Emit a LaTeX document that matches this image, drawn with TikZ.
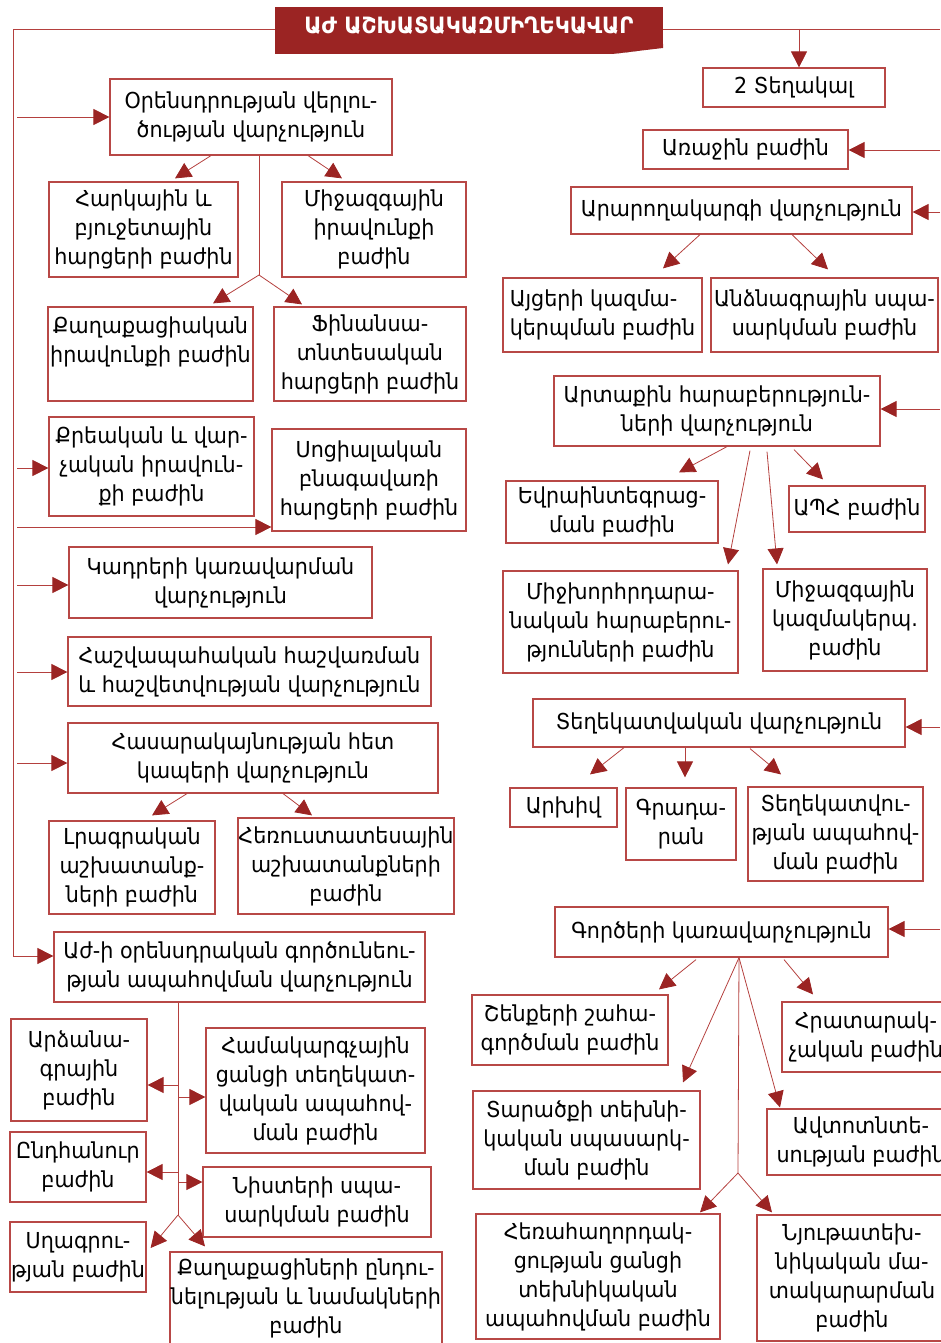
\documentclass[tikz,border=0pt]{standalone}
\usepackage{fontspec}
\setmainfont{DejaVu Sans}[FakeStretch=0.94]
\usetikzlibrary{arrows.meta}
\definecolor{tipred}{RGB}{155,36,35}
\definecolor{boxred}{RGB}{184,72,70}
\definecolor{linered}{RGB}{180,64,62}

% #1 extra node options, #2 name, #3 left, #4 top, #5 right, #6 bottom, #7 text
\newcommand\orgbox[7][]{%
  \node[unit,#1,minimum width={(#5)-(#3)},minimum height={(#6)-(#4)}]
    (#2) at ({((#3)+(#5))/2},{((#4)+(#6))/2}) {#7};}

\begin{document}
\begin{tikzpicture}[x=1pt,y=-1pt,
  unit/.style={draw=boxred,line width=1.2pt,inner sep=0pt,align=center,
    font=\fontsize{22}{29}\selectfont},
  conn/.style={draw=linered,line width=0.8pt},
  arr/.style={conn,-{Triangle[length=16pt,width=16pt,color=tipred]}},
  banner/.style={fill=tipred,text=white,inner sep=0pt,
    font=\fontsize{22.5}{25}\selectfont\bfseries}]

\useasboundingbox (0,0) rectangle (940,1343);

% ---------- title banner ----------
\fill[tipred] (275,44) -- (663,44) -- (663,48) -- (612,54) -- (275,54) -- cycle;
\fill[tipred!75!black] (612,54) -- (640,50.6) -- (628,52.2) -- cycle;
\node[banner,minimum width=388,minimum height=38] (t) at (469,26) {ԱԺ ԱՇԽԱՏԱԿԱԶՄԻՂԵԿԱՎԱՐ};

% ---------- left column ----------
\orgbox{b1}{110}{79}{392}{155}{Օրենսդրության վերլու-\\ծության վարչություն}
\orgbox{b2}{49}{182}{238}{277}{Հարկային և\\բյուջետային\\հարցերի բաժին}
\orgbox{b3}{282}{182}{466}{277}{Միջազգային\\իրավունքի\\բաժին}
\orgbox{b4}{48}{307}{253}{401}{Քաղաքացիական\\իրավունքի բաժին\\\mbox{}}
\orgbox{b5}{274}{307}{466}{401}{Ֆինանսա-\\տնտեսական\\հարցերի բաժին}
\orgbox{b6}{49}{417}{254}{516}{Քրեական և վար-\\չական իրավուն-\\քի բաժին}
\orgbox{b7}{272}{429}{466}{531}{Սոցիալական\\բնագավառի\\հարցերի բաժին}
\orgbox{b8}{69}{547}{372}{618}{Կադրերի կառավարման\\վարչություն}
\orgbox{b9}{68}{637}{431}{706}{Հաշվապահական հաշվառման\\և հաշվետվության վարչություն}
\orgbox{b10}{68}{723}{438}{793}{Հասարակայնության հետ\\կապերի վարչություն}
\orgbox{b11}{49}{821}{215}{914}{Լրագրական\\աշխատանք-\\ների բաժին}
\orgbox{b12}{238}{818}{454}{914}{Հեռուստատեսային\\աշխատանքների\\բաժին}
\orgbox{b13}{54}{932}{425}{1002}{Աժ-ի օրենսդրական գործունեու-\\թյան ապահովման վարչություն}
\orgbox{b14}{11}{1019}{147}{1121}{Արձանա-\\գրային\\բաժին}
\orgbox{b15}{206}{1028}{425}{1153}{Համակարգչային\\ցանցի տեղեկատ-\\վական ապահով-\\ման բաժին}
\orgbox{b16}{10}{1132}{146}{1202}{Ընդհանուր\\բաժին}
\orgbox{b17}{203}{1167}{431}{1237}{Նիստերի սպա-\\սարկման բաժին}
\orgbox{b18}{10}{1222}{146}{1292}{Սղագրու-\\թյան բաժին}
\orgbox{b19}{170}{1252}{442}{1344}{Քաղաքացիների ընդու-\\նելության և նամակների\\բաժին}

% ---------- right column ----------
\orgbox{b20}{703}{68}{885}{107}{2 Տեղակալ}
\orgbox{b21}{643}{130}{848}{169}{Առաջին բաժին}
\orgbox{b22}{571}{187}{912}{234}{Արարողակարգի վարչություն}
\orgbox[align=left]{b23}{503}{278}{702}{352}{Այցերի կազմա-\\կերպման բաժին}
\orgbox{b24}{711}{278}{938}{352}{Անձնագրային սպա-\\սարկման բաժին}
\orgbox{b25}{554}{376}{880}{446}{Արտաքին հարաբերություն-\\ների վարչություն}
\orgbox{b26}{506}{481}{718}{543}{Եվրաինտեգրաց-\\ման բաժին}
\orgbox{b27}{789}{486}{925}{532}{ԱՊՀ բաժին}
\orgbox{b28}{503}{571}{738}{673}{Միջխորհրդարա-\\նական հարաբերու-\\թյունների բաժին}
\orgbox{b29}{763}{569}{927}{671}{Միջազգային\\կազմակերպ.\\բաժին}
\orgbox{b30}{533}{699}{905}{747}{Տեղեկատվական վարչություն}
\orgbox{b31}{510}{788}{617}{827}{Արխիվ}
\orgbox{b32}{626}{788}{736}{860}{Գրադա-\\րան}
\orgbox{b33}{748}{787}{923}{881}{Տեղեկատվու-\\թյան ապահով-\\ման բաժին}
\orgbox{b34}{555}{907}{888}{957}{Գործերի կառավարչություն}
\orgbox{b35}{472}{995}{668}{1065}{Շենքերի շահա-\\գործման բաժին}
\orgbox{b36}{782}{1002}{950}{1072}{Հրատարակ-\\չական բաժին}
\orgbox{b37}{473}{1091}{700}{1189}{Տարածքի տեխնի-\\կական սպասարկ-\\ման բաժին}
\orgbox{b38}{767}{1109}{955}{1175}{Ավտոտնտե-\\սության բաժին}
\orgbox{b39}{476}{1214}{720}{1339}{Հեռահաղորդակ-\\ցության ցանցի\\տեխնիկական\\ապահովման բաժին}
\orgbox{b40}{757}{1215}{947}{1341}{Նյութատեխ-\\նիկական մա-\\տակարարման\\բաժին}

% ---------- free ends and junctions ----------
\coordinate (Ltop) at (13,29);
\coordinate (Lbot) at (13,956);
\coordinate (Rend) at (940,29);
\coordinate (Rdrop) at (799,29);
\coordinate (la1) at (17,117);
\coordinate (la6) at (17,468);
\coordinate (la7) at (17,527);
\coordinate (la8) at (17,585);
\coordinate (la9) at (17,672);
\coordinate (la10) at (17,763);
\coordinate (ra21) at (940,150);
\coordinate (ra22) at (940,212);
\coordinate (ra25) at (940,409);
\coordinate (ra30) at (940,727);
\coordinate (ra34) at (940,929);
\coordinate (ap1) at (259,275);
\coordinate (ap2) at (178,1215);
\coordinate (s1) at (178,1085);
\coordinate (s2) at (178,1097);
\coordinate (s3) at (178,1172);
\coordinate (s4) at (178,1182);
\coordinate (f3) at ([xshift=17.5pt]b34.south);
\coordinate (ap4) at (738,1173);

% ---------- main lines from the head ----------
\draw[arr] (Ltop -| t.west) -- (Ltop) -- (Lbot) -- (Lbot -| b13.west);
\draw[conn] (Rend -| t.east) -- (Rend);
\draw[arr] (Rdrop) -- (Rdrop |- b20.north);

\foreach \c/\b in {la1/b1,la6/b6,la7/b7,la8/b8,la9/b9,la10/b10}
  \draw[arr] (\c) -- (\c -| \b.west);
\foreach \c/\b in {ra21/b21,ra22/b22,ra25/b25,ra30/b30,ra34/b34}
  \draw[arr] (\c) -- (\c -| \b.east);

% ---------- left branches ----------
\draw[arr] ([xshift=-40pt]b1.south) -- ([xshift=31.5pt,yshift=3pt]b2.north);
\draw[arr] ([xshift=57pt]b1.south) -- ([xshift=-32pt,yshift=3pt]b3.north);
\draw[conn] ([xshift=8pt]b1.south) -- (ap1);
\draw[arr] (ap1) -- ([xshift=62.5pt,yshift=3pt]b4.north);
\draw[arr] (ap1) -- ([xshift=-68pt,yshift=2pt]b5.north);

\draw[arr] ([xshift=-66pt]b10.south) -- ([xshift=20pt,yshift=5pt]b11.north);
\draw[arr] ([xshift=30pt]b10.south) -- ([xshift=-34pt,yshift=2pt]b12.north);

\draw[conn] ([xshift=-61.5pt]b13.south) -- (ap2);
\draw[arr] (s1) -- (s1 -| b14.east);
\draw[arr] (s2) -- (s2 -| b15.west);
\draw[arr] (s3) -- (s3 -| b16.east);
\draw[arr] (s4) -- (s4 -| b17.west);
\draw[arr] (ap2) -- ([xshift=4pt,yshift=9pt]b18.east);
\draw[arr] (ap2) -- ([xshift=-101pt,yshift=5pt]b19.north);

% ---------- right branches ----------
\draw[arr] ([xshift=-41.5pt]b22.south) -- ([xshift=60.5pt,yshift=9pt]b23.north);
\draw[arr] ([xshift=50.5pt]b22.south) -- ([xshift=3.5pt,yshift=8pt]b24.north);

\draw[arr] ([xshift=10pt]b25.south) -- ([xshift=67pt,yshift=8pt]b26.north);
\draw[arr] ([xshift=33pt,yshift=-4pt]b25.south) -- ([xshift=107.5pt,yshift=6pt]b28.north);
\draw[arr] ([xshift=50pt,yshift=-5pt]b25.south) -- ([xshift=-68pt,yshift=4pt]b29.north);
\draw[arr] ([xshift=77pt,yshift=-3pt]b25.south) -- ([xshift=-34pt,yshift=6pt]b27.north);

\draw[arr] ([xshift=-95pt]b30.south) -- ([xshift=26.5pt,yshift=13pt]b31.north);
\draw[arr] ([xshift=-34pt]b30.south) -- ([xshift=4pt,yshift=10pt]b32.north);
\draw[arr] ([xshift=31pt,yshift=-1pt]b30.south) -- ([xshift=-54.5pt,yshift=12pt]b33.north);

\draw[arr] ([xshift=-25.5pt,yshift=-2pt]b34.south) -- ([xshift=89pt,yshift=5pt]b35.north);
\draw[arr] ([xshift=62.5pt,yshift=-2pt]b34.south) -- ([xshift=-53pt,yshift=7pt]b36.north);
\draw[arr] (f3) -- ([xshift=96.5pt,yshift=8pt]b37.north);
\draw[arr] (f3) -- ([xshift=-81pt,yshift=1pt]b38.north);
\draw[conn] (f3) -- (ap4);
\draw[arr] (ap4) -- ([xshift=102pt,yshift=1pt]b39.north);
\draw[arr] (ap4) -- ([xshift=-80pt,yshift=2pt]b40.north);
\end{tikzpicture}
\end{document}
